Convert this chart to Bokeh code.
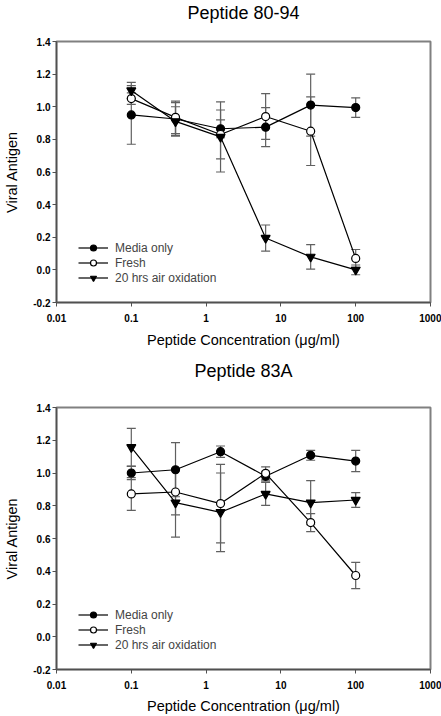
from bokeh.plotting import figure
from bokeh.models import (ColumnDataSource, Whisker, TeeHead, FixedTicker, Legend,
                          LegendItem, Title)
from bokeh.layouts import column
from bokeh.embed import file_html
from bokeh.resources import INLINE

conc = [0.1, 0.39, 1.56, 6.25, 25, 100]
x_ticks = [0.01, 0.1, 1, 10, 100, 1000]
x_tick_labels = ["0.01", "0.1", "1", "10", "100", "1000"]
y_ticks = [-0.2, 0.0, 0.2, 0.4, 0.6, 0.8, 1.0, 1.2, 1.4]
series_names = ["Media only", "Fresh", "20 hrs air oxidation"]

# Peptide 80-94
p1_media = [0.95, 0.925, 0.865, 0.875, 1.01, 0.995]
p1_media_err = [0.18, 0.10, 0.055, 0.12, 0.19, 0.06]
p1_fresh = [1.05, 0.935, 0.83, 0.94, 0.85, 0.07]
p1_fresh_err = [0.035, 0.10, 0.15, 0.14, 0.21, 0.055]
p1_ox = [1.10, 0.91, 0.815, 0.195, 0.08, 0.0]
p1_ox_err = [0.05, 0.09, 0.215, 0.08, 0.075, 0.03]

# Peptide 83A
p2_media = [1.00, 1.02, 1.13, 0.98, 1.108, 1.073]
p2_media_err = [0.04, 0.165, 0.035, 0.03, 0.03, 0.065]
p2_fresh = [0.872, 0.884, 0.813, 0.998, 0.697, 0.374]
p2_fresh_err = [0.10, 0.14, 0.24, 0.04, 0.055, 0.08]
p2_ox = [1.157, 0.819, 0.76, 0.872, 0.819, 0.835]
p2_ox_err = [0.115, 0.21, 0.24, 0.07, 0.135, 0.045]

FONT = "Liberation Sans"
ERR = "#606060"


def make_plot(title, series, errs, height, fh, top, bottom, title_standoff,
              xlab_standoff, legend_y):
    p = figure(x_axis_type="log", width=441, height=height,
               frame_width=374, frame_height=fh,
               min_border_left=56, min_border_right=11,
               min_border_top=top, min_border_bottom=bottom,
               x_range=(0.01, 1000), y_range=(-0.2, 1.4),
               output_backend="svg", toolbar_location=None)
    # trailing blank line lifts the title text away from the frame
    p.title = Title(text=title + "\n", align="center", vertical_align="bottom",
                    text_font=FONT, text_font_size="18px",
                    text_font_style="normal", text_color="black",
                    text_line_height=0.95, standoff=title_standoff)
    p.grid.visible = False
    p.background_fill_color = "white"
    p.border_fill_color = "white"
    p.outline_line_color = "#808080"
    p.outline_line_width = 2

    for ax in (p.xaxis[0], p.yaxis[0]):
        ax.axis_line_color = "#505050"
        ax.axis_line_width = 1.5
        ax.major_tick_line_color = "#505050"
        ax.major_tick_in = 0
        ax.major_tick_out = 4
        ax.minor_tick_line_color = None
        ax.major_label_text_font = FONT
        ax.major_label_text_font_size = "10px"
        ax.major_label_text_font_style = "bold"
        ax.major_label_text_color = "black"
        ax.axis_label_text_font = FONT
        ax.axis_label_text_font_size = "14.5px"
        ax.axis_label_text_font_style = "normal"
        ax.axis_label_text_color = "black"

    p.xaxis.ticker = FixedTicker(ticks=x_ticks)
    p.xaxis.major_label_overrides = {t: l for t, l in zip(x_ticks, x_tick_labels)}
    p.xaxis.major_label_standoff = 7
    p.xaxis.axis_label = "Peptide Concentration (\u03bcg/ml)"
    p.xaxis.axis_label_standoff = xlab_standoff

    p.yaxis.ticker = FixedTicker(ticks=y_ticks)
    p.yaxis.major_label_overrides = {t: f"{t:.1f}" for t in y_ticks}
    p.yaxis.major_label_standoff = 2
    p.yaxis.axis_label = "Viral Antigen"
    p.yaxis.axis_label_standoff = 10

    styles = [
        dict(marker="circle", size=8, fill_color="black"),
        dict(marker="circle", size=8, fill_color="white"),
        dict(marker="inverted_triangle", size=9, fill_color="black"),
    ]
    items = []
    for name, vals, err, st in zip(series_names, series, errs, styles):
        src = ColumnDataSource(dict(
            x=conc, y=vals,
            lo=[v - e for v, e in zip(vals, err)],
            hi=[v + e for v, e in zip(vals, err)]))
        w = Whisker(base="x", upper="hi", lower="lo", source=src,
                    line_color=ERR, line_width=1.2,
                    upper_head=TeeHead(size=9, line_color=ERR, line_width=1.2),
                    lower_head=TeeHead(size=9, line_color=ERR, line_width=1.2))
        p.add_layout(w)
        lr = p.line("x", "y", source=src, line_color="black", line_width=1.2)
        sr = p.scatter("x", "y", source=src, marker=st["marker"], size=st["size"],
                       fill_color=st["fill_color"], line_color="black", line_width=1.2)
        items.append(LegendItem(label=name, renderers=[lr, sr]))

    leg = Legend(items=items, location=(22, legend_y), padding=0, margin=0,
                 spacing=0, glyph_width=30, glyph_height=15, label_height=15,
                 label_standoff=7, label_text_font=FONT,
                 label_text_font_size="12px", border_line_color=None,
                 background_fill_alpha=0)
    p.add_layout(leg)
    return p


p1 = make_plot("Peptide 80-94", [p1_media, p1_fresh, p1_ox],
               [p1_media_err, p1_fresh_err, p1_ox_err],
               348, 261, 40, 47, 0, 7, 17)
p2 = make_plot("Peptide 83A", [p2_media, p2_fresh, p2_ox],
               [p2_media_err, p2_fresh_err, p2_ox_err],
               368, 262, 56, 50, 16, 6, 17)

layout = column(p1, p2, spacing=0)
open("out.html", "w").write(file_html(layout, INLINE))
